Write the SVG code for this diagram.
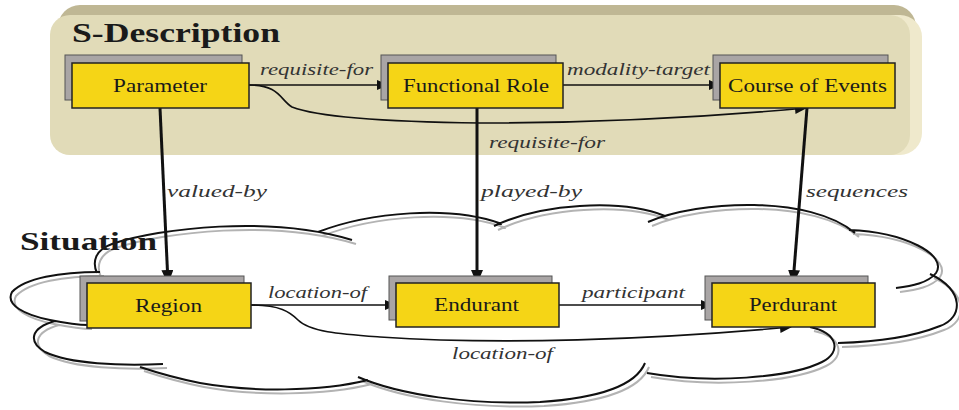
<svg xmlns="http://www.w3.org/2000/svg" width="959" height="410" viewBox="0 0 959 410">
  <style>
    text { font-family: "Liberation Serif", "DejaVu Serif", serif; }
    .box { fill: #f5d516; stroke: #222; stroke-width: 1.5; }
    .shadow { fill: #a9a5a5; stroke: #555; stroke-width: 1; }
    .node-label { font-size: 18px; fill: #1a1a1a; }
    .edge-label { font-style: italic; font-size: 16px; fill: #333; }
    .title { font-weight: bold; font-size: 27px; fill: #1a1a1a; }
    .thin { fill: none; stroke: #111; stroke-width: 1.6; }
    .thick { fill: none; stroke: #111; stroke-width: 3; }
    .cloud { fill: none; stroke: #111; stroke-width: 2; }
    .cloud-shade { fill: none; stroke: #b3b3b3; stroke-width: 2; }
  </style>
  <defs>
    <marker id="arrow" markerUnits="userSpaceOnUse" markerWidth="12" markerHeight="10" refX="11" refY="5" orient="auto">
      <path d="M0,0 L12,5 L0,10 z" fill="#111"/>
    </marker>
    <marker id="arrowBig" markerUnits="userSpaceOnUse" markerWidth="14" markerHeight="12" refX="13" refY="6" orient="auto">
      <path d="M0,0 L14,6 L0,12 z" fill="#111"/>
    </marker>
    <path id="cloudPath" d="M97,273 C92,262 95,250 112,244 C160,228 270,215 352,240
      M318,232 C370,212 450,205 502,224
      M494,226 C540,204 620,198 665,216
      M648,222 C700,200 810,195 855,233
      M849,230 C905,232 948,255 936,273 C928,283 912,286 896,288
      M930,274 C965,290 963,318 940,326 C910,338 875,342 838,343
      M810,327 C838,333 842,352 822,362 C790,378 710,384 647,373
      M645,363 C636,385 600,398 540,402 C470,405 400,395 358,377
      M368,380 C320,392 250,392 200,383 C175,378 155,372 140,367
      M163,364 C120,366 70,364 45,352 C28,342 30,328 55,321
      M100,272 C60,272 25,278 12,292 C5,305 25,315 50,320 C65,323 78,325 88,325"/>
  </defs>

  <!-- S-Description panel with bevelled edges -->
  <g id="s-description">
    <rect x="58" y="5" width="858" height="145" rx="22" fill="#bfb794"/>
    <rect x="62" y="15" width="860" height="140" rx="22" fill="#efe9cc"/>
    <rect x="50" y="15" width="860" height="140" rx="20" fill="#e1dbb8"/>
    <text class="title" x="72" y="42" textLength="208" lengthAdjust="spacingAndGlyphs">S-Description</text>
  </g>

  <!-- Situation cloud -->
  <g id="situation">
    <use href="#cloudPath" class="cloud-shade" transform="translate(4,4)"/>
    <use href="#cloudPath" class="cloud"/>
    <text class="title" x="20" y="250" style="font-size:25px" textLength="137" lengthAdjust="spacingAndGlyphs">Situation</text>
  </g>

  <!-- Connectors -->
  <g id="connectors">
    <path class="thin" d="M249,85 L388,85" marker-end="url(#arrow)"/>
    <path class="thin" d="M563,85 L720,85" marker-end="url(#arrow)"/>
    <path class="thin" d="M249,85 C280,85 280,100 292,107 C320,118 400,122 480,123 C600,123 720,116 806,108" marker-end="url(#arrow)"/>
    <path class="thick" d="M160,108 L168,283" marker-end="url(#arrowBig)"/>
    <path class="thick" d="M477,108 L477,283" marker-end="url(#arrowBig)"/>
    <path class="thick" d="M807,108 L793,283" marker-end="url(#arrowBig)"/>
    <path class="thin" d="M251,305 L396,305" marker-end="url(#arrow)"/>
    <path class="thin" d="M559,305 L712,305" marker-end="url(#arrow)"/>
    <path class="thin" d="M251,305 C280,305 290,312 298,320 C310,332 340,334 380,337 C500,345 650,340 791,327" marker-end="url(#arrow)"/>

    <text class="edge-label" x="260" y="75" textLength="113" lengthAdjust="spacingAndGlyphs">requisite-for</text>
    <text class="edge-label" x="567" y="75" textLength="143" lengthAdjust="spacingAndGlyphs">modality-target</text>
    <text class="edge-label" x="489" y="148" textLength="116" lengthAdjust="spacingAndGlyphs">requisite-for</text>
    <text class="edge-label" x="167" y="197" textLength="100" lengthAdjust="spacingAndGlyphs">valued-by</text>
    <text class="edge-label" x="481" y="197" textLength="101" lengthAdjust="spacingAndGlyphs">played-by</text>
    <text class="edge-label" x="806" y="197" textLength="102" lengthAdjust="spacingAndGlyphs">sequences</text>
    <text class="edge-label" x="268" y="298" textLength="99" lengthAdjust="spacingAndGlyphs">location-of</text>
    <text class="edge-label" x="582" y="298" textLength="103" lengthAdjust="spacingAndGlyphs">participant</text>
    <text class="edge-label" x="452" y="359" textLength="101" lengthAdjust="spacingAndGlyphs">location-of</text>
  </g>

  <!-- Nodes -->
  <g id="parameter">
    <rect class="shadow" x="65" y="55" width="177" height="45"/>
    <rect class="box" x="72" y="63" width="177" height="45"/>
    <text class="node-label" x="113" y="92" textLength="94" lengthAdjust="spacingAndGlyphs">Parameter</text>
  </g>
  <g id="functional-role">
    <rect class="shadow" x="381" y="55" width="175" height="45"/>
    <rect class="box" x="388" y="63" width="175" height="45"/>
    <text class="node-label" x="403" y="92" textLength="146" lengthAdjust="spacingAndGlyphs">Functional Role</text>
  </g>
  <g id="course-of-events">
    <rect class="shadow" x="713" y="55" width="175" height="45"/>
    <rect class="box" x="720" y="63" width="175" height="45"/>
    <text class="node-label" x="728" y="92" textLength="159" lengthAdjust="spacingAndGlyphs">Course of Events</text>
  </g>
  <g id="region">
    <rect class="shadow" x="80" y="276" width="164" height="45"/>
    <rect class="box" x="87" y="283" width="164" height="45"/>
    <text class="node-label" x="135" y="312" textLength="67" lengthAdjust="spacingAndGlyphs">Region</text>
  </g>
  <g id="endurant">
    <rect class="shadow" x="389" y="276" width="163" height="44"/>
    <rect class="box" x="396" y="283" width="163" height="44"/>
    <text class="node-label" x="434" y="311" textLength="85" lengthAdjust="spacingAndGlyphs">Endurant</text>
  </g>
  <g id="perdurant">
    <rect class="shadow" x="705" y="276" width="163" height="44"/>
    <rect class="box" x="712" y="283" width="163" height="44"/>
    <text class="node-label" x="749" y="311" textLength="88" lengthAdjust="spacingAndGlyphs">Perdurant</text>
  </g>
</svg>
